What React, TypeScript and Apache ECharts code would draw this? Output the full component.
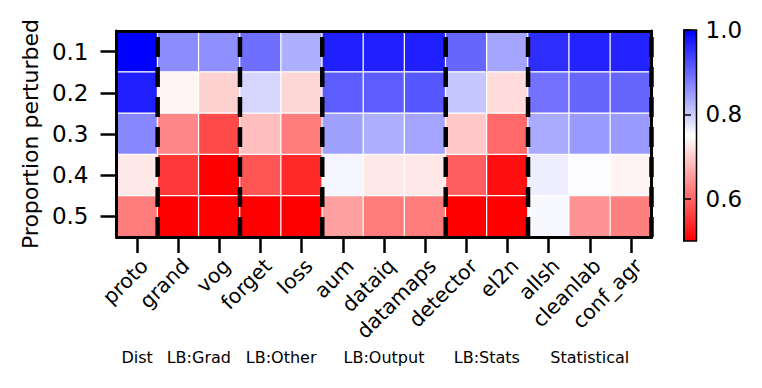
import React, { useEffect, useRef } from "react";
import * as echarts from "echarts";

const methods = ["proto", "grand", "vog", "forget", "loss", "aum", "dataiq", "datamaps", "detector", "el2n", "allsh", "cleanlab", "conf_agr"];
const proportions = ["0.1", "0.2", "0.3", "0.4", "0.5"];

const row01 = [1.0, 0.862, 0.86, 0.892, 0.828, 0.97, 0.97, 0.97, 0.9, 0.838, 0.956, 0.966, 0.966];
const row02 = [0.97, 0.74, 0.706, 0.79, 0.71, 0.91, 0.91, 0.915, 0.805, 0.715, 0.888, 0.9, 0.9];
const row03 = [0.868, 0.632, 0.573, 0.687, 0.622, 0.843, 0.828, 0.838, 0.695, 0.603, 0.833, 0.848, 0.848];
const row04 = [0.727, 0.555, 0.5, 0.583, 0.54, 0.76, 0.727, 0.727, 0.593, 0.515, 0.767, 0.752, 0.738];
const row05 = [0.622, 0.5, 0.5, 0.5, 0.5, 0.657, 0.622, 0.622, 0.5, 0.5, 0.757, 0.643, 0.625];
const rows = [row01, row02, row03, row04, row05];

const groupBoundaries = [1, 3, 5, 8, 10, 13];
const groupCenters = [0.5, 2, 4, 6.5, 9, 11.5];
const groupNames = ["Dist", "LB:Grad", "LB:Other", "LB:Output", "LB:Stats", "Statistical"];

const colorbarTicks = [0.6, 0.8, 1.0];
const vMin = 0.5;
const vMax = 1.0;

const FONT = "DejaVu Sans";

export default function App() {
  const ref = useRef<HTMLDivElement>(null);
  useEffect(() => {
    if (!ref.current) return;
    const chart = echarts.init(ref.current, null, { renderer: "svg" });
    const heatData: any[] = [];
    rows.forEach((r, yi) => r.forEach((v, xi) => heatData.push([xi, yi, v])));

    const dashSeries = groupBoundaries.map((b) => ({
      type: "line",
      xAxisIndex: 1,
      yAxisIndex: 1,
      data: [[b, 0], [b, 5]],
      symbol: "none",
      silent: true,
      z: 5,
      clip: false,
      lineStyle: { color: "#000", width: 4.5, type: [20, 10], cap: "butt" },
    }));

    const option: any = {
      animation: false,
      textStyle: { fontFamily: FONT },
      grid: [
        { left: 116.5, top: 31, width: 535, height: 206, containLabel: false },
        { left: 684, top: 30, width: 12.5, height: 211, show: true, z: 10, borderColor: "#000", borderWidth: 1.5, backgroundColor: "transparent" },
      ],
      xAxis: [
        {
          type: "category",
          gridIndex: 0,
          data: methods,
          position: "bottom",
          z: 10,
          axisLine: { show: true, lineStyle: { color: "#000", width: 3 } },
          axisTick: { show: true, alignWithLabel: true, length: 16, lineStyle: { color: "#000", width: 2.5 } },
          axisLabel: { rotate: 45, fontSize: 20.5, color: "#000", fontFamily: FONT, margin: 18, align: "right", verticalAlign: "top", interval: 0 },
          splitLine: { show: false },
        },
        {
          type: "value",
          gridIndex: 0,
          min: 0,
          max: 13,
          position: "top",
          z: 10,
          axisLine: { show: true, onZero: false, lineStyle: { color: "#000", width: 3 } },
          axisTick: { show: false },
          axisLabel: { show: false },
          splitLine: { show: false },
        },
        {
          type: "value",
          gridIndex: 0,
          min: 0,
          max: 13,
          position: "bottom",
          offset: 112,
          axisLine: { show: false },
          axisTick: { show: false },
          splitLine: { show: false },
          axisLabel: {
            show: true,
            customValues: groupCenters,
            fontSize: 16,
            color: "#000",
            fontFamily: FONT,
            margin: 0,
            formatter: (v: number) => {
              const i = groupCenters.indexOf(v);
              return i >= 0 ? groupNames[i] : "";
            },
          },
        },
        {
          type: "value",
          gridIndex: 1,
          show: false,
          min: 0,
          max: 1,
        },
      ],
      yAxis: [
        {
          type: "category",
          gridIndex: 0,
          data: proportions,
          inverse: true,
          position: "left",
          z: 10,
          name: "Proportion perturbed",
          nameLocation: "middle",
          nameGap: 68,
          nameTextStyle: { fontSize: 22, color: "#000", fontFamily: FONT },
          axisLine: { show: true, lineStyle: { color: "#000", width: 3 } },
          axisTick: { show: true, alignWithLabel: true, length: 16, lineStyle: { color: "#000", width: 2.5 } },
          axisLabel: { fontSize: 23, color: "#000", fontFamily: FONT, margin: 28 },
          splitLine: { show: false },
        },
        {
          type: "value",
          gridIndex: 0,
          min: 0,
          max: 5,
          position: "right",
          z: 10,
          axisLine: { show: true, onZero: false, lineStyle: { color: "#000", width: 3 } },
          axisTick: { show: false },
          axisLabel: { show: false },
          splitLine: { show: false },
        },
        {
          type: "value",
          gridIndex: 1,
          min: vMin,
          max: vMax,
          position: "right",
          z: 10,
          axisLine: { show: true, lineStyle: { color: "#000", width: 1.5 } },
          axisTick: { show: true, customValues: colorbarTicks, length: 7, lineStyle: { color: "#000", width: 1.5 } },
          axisLabel: { show: true, customValues: colorbarTicks, fontSize: 23, color: "#000", fontFamily: FONT, margin: 9, formatter: (v: number) => v.toFixed(1) },
          splitLine: { show: false },
        },
      ],
      visualMap: {
        type: "continuous",
        seriesIndex: 0,
        min: vMin,
        max: vMax,
        calculable: false,
        realtime: false,
        orient: "vertical",
        left: 684,
        top: 30,
        padding: 0,
        itemWidth: 12.5,
        itemHeight: 211,
        text: null,
        showLabel: false,
        inRange: { color: ["#ff0000", "#ffffff", "#0000ff"] },
        outOfRange: { color: ["#ff0000"] },
      },
      series: [
        {
          type: "heatmap",
          xAxisIndex: 0,
          yAxisIndex: 0,
          data: heatData,
          label: { show: false },
          itemStyle: { borderColor: "#ffffff", borderWidth: 1.2 },
          emphasis: { disabled: true },
          z: 2,
        },
        ...dashSeries,
      ],
    };
    chart.setOption(option);
    return () => chart.dispose();
  }, []);
  return <div ref={ref} style={{ position: "fixed", left: 0, top: 0, width: 762, height: 388, background: "#fff" }} />;
}
